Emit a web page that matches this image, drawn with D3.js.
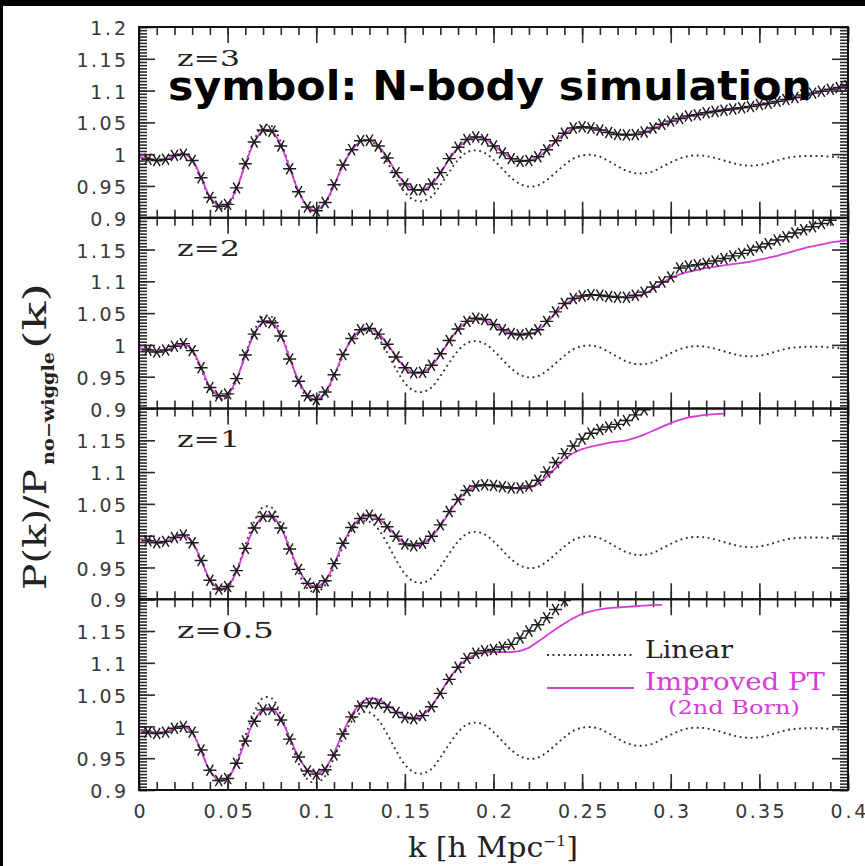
<!DOCTYPE html>
<html>
<head>
<meta charset="utf-8">
<script src="https://cdn.jsdelivr.net/npm/d3@7"></script>
<style>
  html, body { margin: 0; padding: 0; background: #000; }
  svg { display: block; }
</style>
</head>
<body>
<svg id="chart" width="865" height="866"></svg>
<script>
// Wavenumber grid k [h/Mpc] shared by all curves
const kGrid = [0,0.005,0.01,0.015,0.02,0.025,0.03,0.035,0.04,0.045,0.05,0.055,0.06,0.065,0.07,0.075,0.08,0.085,0.09,0.095,
  0.1,0.105,0.11,0.115,0.12,0.125,0.13,0.135,0.14,0.145,0.15,0.155,0.16,0.165,0.17,0.175,0.18,0.185,0.19,0.195,
  0.2,0.205,0.21,0.215,0.22,0.225,0.23,0.235,0.24,0.245,0.25,0.255,0.26,0.265,0.27,0.275,0.28,0.285,0.29,0.295,
  0.3,0.305,0.31,0.315,0.32,0.325,0.33,0.335,0.34,0.345,0.35,0.355,0.36,0.365,0.37,0.375,0.38,0.385,0.39,0.395,0.4];

// Linear theory P(k)/P_nw(k) (same at every redshift)
const linearRatio = [1.000,0.995,0.990,0.991,0.997,1.001,0.990,0.962,0.930,0.915,
  0.918,0.945,0.985,1.022,1.045,1.044,1.019,0.980,0.942,0.917,
  0.911,0.922,0.950,0.982,1.008,1.021,1.022,1.010,0.988,0.962,
  0.940,0.928,0.926,0.933,0.951,0.972,0.991,1.003,1.006,1.002,
  0.991,0.977,0.963,0.953,0.949,0.951,0.959,0.971,0.983,0.993,
  0.998,0.999,0.996,0.989,0.981,0.974,0.970,0.970,0.973,0.980,
  0.987,0.993,0.997,0.998,0.997,0.994,0.990,0.986,0.983,0.982,
  0.983,0.986,0.990,0.994,0.996,0.997,0.997,0.997,0.996,0.995,
  0.994];

// Improved PT (2nd Born), from k = 0 on the grid above
const ptZ3 = [0.996,0.993,0.990,0.991,0.997,1.000,0.991,0.964,0.933,0.919,
  0.921,0.946,0.984,1.019,1.037,1.036,1.014,0.978,0.942,0.918,
  0.912,0.924,0.951,0.982,1.006,1.020,1.022,1.013,0.995,0.972,
  0.954,0.945,0.944,0.952,0.970,0.992,1.010,1.022,1.027,1.024,
  1.014,1.003,0.994,0.990,0.990,0.995,1.006,1.020,1.032,1.040,
  1.043,1.042,1.039,1.035,1.032,1.031,1.031,1.034,1.040,1.046,
  1.051,1.056,1.060,1.063,1.066,1.068,1.070,1.072,1.073,1.075,
  1.077,1.079,1.082,1.085,1.088,1.092,1.095,1.099,1.102,1.105,
  1.108];
const ptZ2 = [0.995,0.992,0.989,0.991,0.998,1.002,0.992,0.965,0.934,0.920,
  0.922,0.946,0.983,1.017,1.036,1.036,1.015,0.979,0.944,0.921,
  0.914,0.925,0.952,0.984,1.009,1.023,1.026,1.018,1.002,0.982,
  0.965,0.956,0.957,0.967,0.985,1.006,1.024,1.036,1.041,1.039,
  1.032,1.024,1.018,1.016,1.017,1.022,1.035,1.050,1.063,1.071,
  1.076,1.078,1.078,1.077,1.075,1.074,1.076,1.080,1.088,1.097,
  1.105,1.111,1.115,1.118,1.121,1.123,1.125,1.127,1.129,1.131,
  1.134,1.137,1.140,1.144,1.148,1.152,1.155,1.158,1.161,1.163,
  1.165];
const ptZ1 = [0.996,0.992,0.989,0.990,0.997,1.001,0.990,0.962,0.931,0.917,
  0.920,0.944,0.980,1.012,1.030,1.031,1.013,0.980,0.948,0.926,
  0.920,0.929,0.955,0.987,1.012,1.027,1.032,1.027,1.015,1.000,
  0.988,0.985,0.988,0.998,1.015,1.036,1.056,1.070,1.078,1.080,
  1.079,1.077,1.075,1.074,1.075,1.081,1.093,1.106,1.120,1.130,
  1.136,1.140,1.143,1.146,1.148,1.150,1.154,1.159,1.165,1.171,
  1.177,1.182,1.186,1.188,1.190,1.191,1.192];
const ptZ05 = [0.994,0.991,0.989,0.991,0.997,1.000,0.990,0.962,0.930,0.916,
  0.919,0.942,0.977,1.009,1.027,1.028,1.012,0.982,0.952,0.932,
  0.926,0.934,0.958,0.990,1.018,1.036,1.044,1.042,1.034,1.024,
  1.016,1.013,1.018,1.032,1.053,1.075,1.093,1.106,1.113,1.116,
  1.117,1.117,1.117,1.119,1.124,1.133,1.143,1.153,1.162,1.170,
  1.177,1.181,1.184,1.186,1.187,1.188,1.189,1.190,1.191,1.191];

// N-body measurements, from k = 0.005 on the grid above
const nbodyZ3 = [0.992,0.990,0.992,0.998,1.000,0.990,0.963,0.932,0.918,0.921,
  0.947,0.985,1.019,1.038,1.036,1.013,0.977,0.941,0.917,0.911,
  0.924,0.952,0.983,1.007,1.021,1.022,1.013,0.994,0.971,0.953,
  0.944,0.944,0.953,0.971,0.993,1.011,1.023,1.027,1.023,1.013,
  1.002,0.993,0.989,0.990,0.996,1.007,1.021,1.033,1.041,1.043,
  1.041,1.038,1.034,1.031,1.030,1.031,1.035,1.041,1.047,1.052,
  1.056,1.060,1.062,1.065,1.067,1.069,1.071,1.073,1.075,1.078,
  1.080,1.083,1.086,1.089,1.093,1.096,1.099,1.102,1.105,1.108];
const nbodyZ2 = [0.992,0.989,0.992,0.998,1.002,0.991,0.964,0.933,0.920,0.923,
  0.947,0.984,1.017,1.037,1.035,1.014,0.978,0.943,0.920,0.914,
  0.926,0.953,0.985,1.010,1.024,1.026,1.017,1.001,0.981,0.964,
  0.956,0.957,0.968,0.986,1.007,1.025,1.037,1.042,1.040,1.032,
  1.024,1.018,1.016,1.018,1.024,1.037,1.052,1.065,1.073,1.077,
  1.079,1.078,1.076,1.075,1.075,1.078,1.083,1.091,1.099,1.107,
  1.121,1.124,1.126,1.128,1.132,1.136,1.140,1.144,1.149,1.154,
  1.159,1.165,1.170,1.176,1.181,1.186,1.191,1.196];
const nbodyZ1 = [0.992,0.989,0.991,0.997,1.001,0.989,0.961,0.930,0.916,0.920,
  0.945,0.980,1.012,1.030,1.030,1.012,0.979,0.947,0.925,0.919,
  0.929,0.956,0.988,1.013,1.027,1.032,1.026,1.014,0.999,0.987,
  0.984,0.988,0.999,1.017,1.038,1.057,1.071,1.078,1.080,1.079,
  1.077,1.075,1.075,1.078,1.087,1.100,1.115,1.129,1.141,1.152,
  1.161,1.167,1.171,1.175,1.181,1.190,1.198];
const nbodyZ05 = [0.991,0.989,0.991,0.997,1.000,0.991,0.963,0.931,0.915,0.918,
  0.942,0.977,1.008,1.026,1.027,1.010,0.980,0.952,0.930,0.925,
  0.932,0.955,0.988,1.015,1.032,1.037,1.036,1.030,1.022,1.014,
  1.012,1.017,1.031,1.052,1.074,1.093,1.107,1.115,1.119,1.121,
  1.125,1.129,1.139,1.150,1.160,1.171,1.184,1.198];

const redshiftLabels = ["z=3", "z=2", "z=1", "z=0.5"];
const xTickValues = [0, 0.05, 0.1, 0.15, 0.2, 0.25, 0.3, 0.35, 0.4];
const xTickLabels = ["0", "0.05", "0.1", "0.15", "0.2", "0.25", "0.3", "0.35", "0.4"];
const yTickValues = [0.9, 0.95, 1, 1.05, 1.1, 1.15, 1.2];
const yTickLabels = ["0.9", "0.95", "1", "1.05", "1.1", "1.15", "1.2"];

const panels = [
  { label: redshiftLabels[0], pt: ptZ3, nbody: nbodyZ3 },
  { label: redshiftLabels[1], pt: ptZ2, nbody: nbodyZ2 },
  { label: redshiftLabels[2], pt: ptZ1, nbody: nbodyZ1 },
  { label: redshiftLabels[3], pt: ptZ05, nbody: nbodyZ05 }
];

const MAGENTA = "#d63cd6";
const SERIF = "'DejaVu Serif', 'Liberation Serif', serif";
const SANS = "'DejaVu Sans', 'Liberation Sans', sans-serif";

const svg = d3.select("#chart");
svg.append("rect").attr("width", 865).attr("height", 866).attr("fill", "#000");
svg.append("rect").attr("x", 3).attr("y", 6).attr("width", 862).attr("height", 860).attr("fill", "#fff");

const plotL = 139, plotR = 848, plotT = 27, plotB = 790;
const panelH = (plotB - plotT) / panels.length;

const x = d3.scaleLinear().domain([0, 0.4]).range([plotL, plotR]);
const xMinor = d3.range(0, 0.4001, 0.01);
const yMinor = d3.range(0.9, 1.2001, 0.005);
const yMajor = yTickValues;

// width of a numeric label: digits are wide, the point is narrow
const labelWidth = s => Array.from(s).reduce((w, c) => w + (c === "." ? 8.6 : 13.6), 0);

function styleTicks(sel) {
  sel.select(".domain").remove();
  sel.selectAll(".tick line").attr("stroke", "#2a2a2a").attr("stroke-width", 1.6);
  sel.selectAll(".tick text").remove();
}

function styleNumbers(sel) {
  sel.select(".domain").remove();
  sel.selectAll("text")
    .attr("font-family", SANS).attr("font-size", 19).attr("fill", "#383838")
    .each(function () {
      const s = d3.select(this).text();
      if (s.length > 1) d3.select(this).attr("textLength", labelWidth(s)).attr("lengthAdjust", "spacing");
    });
}

// stretched serif text helper
function serifText(parent, str, xPos, yPos, size, len, color) {
  return parent.append("text").attr("x", xPos).attr("y", yPos)
    .attr("font-family", SERIF).attr("font-size", size).attr("fill", color || "#222")
    .attr("textLength", len).attr("lengthAdjust", "spacingAndGlyphs").text(str);
}

// asterisk marker used for the simulation points
const starPath = "M-6.5,0L6.5,0M-3.4,-5.6L3.4,5.6M-3.4,5.6L3.4,-5.6";

panels.forEach((p, i) => {
  const y0 = plotT + i * panelH, y1 = y0 + panelH;
  const y = d3.scaleLinear().domain([0.9, 1.2]).range([y1, y0]);
  const g = svg.append("g");

  const clipId = "clip" + i;
  svg.append("clipPath").attr("id", clipId)
    .append("rect").attr("x", plotL).attr("y", y0).attr("width", plotR - plotL).attr("height", panelH);

  // tick marks, all pointing into the panel
  g.append("g").attr("transform", `translate(0,${y1})`)
    .call(d3.axisBottom(x).tickValues(xMinor).tickSize(-8)).call(styleTicks);
  g.append("g").attr("transform", `translate(0,${y1})`)
    .call(d3.axisBottom(x).tickValues(xTickValues).tickSize(-16)).call(styleTicks);
  g.append("g").attr("transform", `translate(0,${y0})`)
    .call(d3.axisTop(x).tickValues(xMinor).tickSize(-8)).call(styleTicks);
  g.append("g").attr("transform", `translate(0,${y0})`)
    .call(d3.axisTop(x).tickValues(xTickValues).tickSize(-16)).call(styleTicks);
  g.append("g").attr("transform", `translate(${plotL},0)`)
    .call(d3.axisLeft(y).tickValues(yMinor).tickSize(-8)).call(styleTicks);
  g.append("g").attr("transform", `translate(${plotL},0)`)
    .call(d3.axisLeft(y).tickValues(yMajor).tickSize(-16)).call(styleTicks);
  g.append("g").attr("transform", `translate(${plotR},0)`)
    .call(d3.axisRight(y).tickValues(yMinor).tickSize(-8)).call(styleTicks);
  g.append("g").attr("transform", `translate(${plotR},0)`)
    .call(d3.axisRight(y).tickValues(yMajor).tickSize(-16)).call(styleTicks);

  // y tick labels (1.2 only on the top panel, where it is not shared)
  const yLabVals = i === 0 ? yTickValues : yTickValues.slice(0, -1);
  g.append("g").attr("transform", `translate(${plotL},0)`)
    .call(d3.axisLeft(y).tickValues(yLabVals).tickSize(0).tickPadding(13)
      .tickFormat(d => yTickLabels[yTickValues.indexOf(d)]))
    .call(styleNumbers)
    .selectAll("text").attr("dy", "0.40em");

  // curves
  const plot = g.append("g").attr("clip-path", `url(#${clipId})`);
  const line = d3.line().x(d => x(d[0])).y(d => y(d[1])).curve(d3.curveCatmullRom.alpha(0.5));

  plot.append("path")
    .datum(linearRatio.map((v, j) => [kGrid[j], v]))
    .attr("d", line).attr("fill", "none")
    .attr("stroke", "#333").attr("stroke-width", 1.9).attr("stroke-dasharray", "1.9,3.6");

  plot.append("path")
    .datum(p.pt.map((v, j) => [kGrid[j], v]))
    .attr("d", line).attr("fill", "none")
    .attr("stroke", MAGENTA).attr("stroke-width", 1.8);

  plot.selectAll("path.nb")
    .data(p.nbody.map((v, j) => [kGrid[j + 1], v]))
    .join("path").attr("class", "nb")
    .attr("transform", d => `translate(${x(d[0])},${y(d[1])})`)
    .attr("d", starPath).attr("fill", "none")
    .attr("stroke", "#1c1c1c").attr("stroke-width", 1.45);

  // frame
  g.append("rect").attr("x", plotL).attr("y", y0).attr("width", plotR - plotL).attr("height", panelH)
    .attr("fill", "none").attr("stroke", "#111").attr("stroke-width", 2);

  // redshift label
  serifText(g, p.label, 177, y0 + 38.5, 22, p.label.length > 3 ? 97 : 63);

  // x tick labels on the bottom panel
  if (i === panels.length - 1) {
    g.append("g").attr("transform", `translate(0,${y1})`)
      .call(d3.axisBottom(x).tickValues(xTickValues).tickSize(0).tickPadding(15)
        .tickFormat(d => xTickLabels[xTickValues.indexOf(d)]))
      .call(styleNumbers);
  }
});

// x axis title
const xt = svg.append("text").attr("x", 408).attr("y", 857)
  .attr("font-family", SERIF).attr("font-size", 27).attr("fill", "#222")
  .attr("textLength", 170).attr("lengthAdjust", "spacingAndGlyphs");
xt.append("tspan").text("k [h Mpc");
xt.append("tspan").attr("font-size", 14).attr("dy", -11).text("−1");
xt.append("tspan").attr("dy", 11).text("]");

// y axis title, rotated
const yt = svg.append("g").attr("transform", "translate(46,590) rotate(-90)");
serifText(yt, "P(k)/P", 0, 0, 31, 121);
yt.append("text").attr("x", 125).attr("y", 8)
  .attr("font-family", SERIF).attr("font-size", 16).attr("font-weight", "bold").attr("fill", "#222")
  .attr("textLength", 113).attr("lengthAdjust", "spacingAndGlyphs").text("no−wiggle");
serifText(yt, "(k)", 241, 0, 31, 66);

// legend
const lg = svg.append("g");
lg.append("line").attr("x1", 547).attr("x2", 634).attr("y1", 655).attr("y2", 655)
  .attr("stroke", "#333").attr("stroke-width", 1.9).attr("stroke-dasharray", "1.9,3.6");
serifText(lg, "Linear", 645, 658, 24, 88);
lg.append("line").attr("x1", 547).attr("x2", 634).attr("y1", 688).attr("y2", 688)
  .attr("stroke", MAGENTA).attr("stroke-width", 1.8);
serifText(lg, "Improved PT", 645, 690, 24, 180, MAGENTA);
serifText(lg, "(2nd Born)", 668, 714, 19, 132, MAGENTA);

// heading over the top panel
svg.append("text").attr("x", 168).attr("y", 100)
  .attr("font-family", "'DejaVu Sans', Verdana, sans-serif").attr("font-size", 40).attr("font-weight", "bold")
  .attr("fill", "#000").attr("textLength", 644).attr("lengthAdjust", "spacingAndGlyphs")
  .text("symbol: N-body simulation");
</script>
</body>
</html>
